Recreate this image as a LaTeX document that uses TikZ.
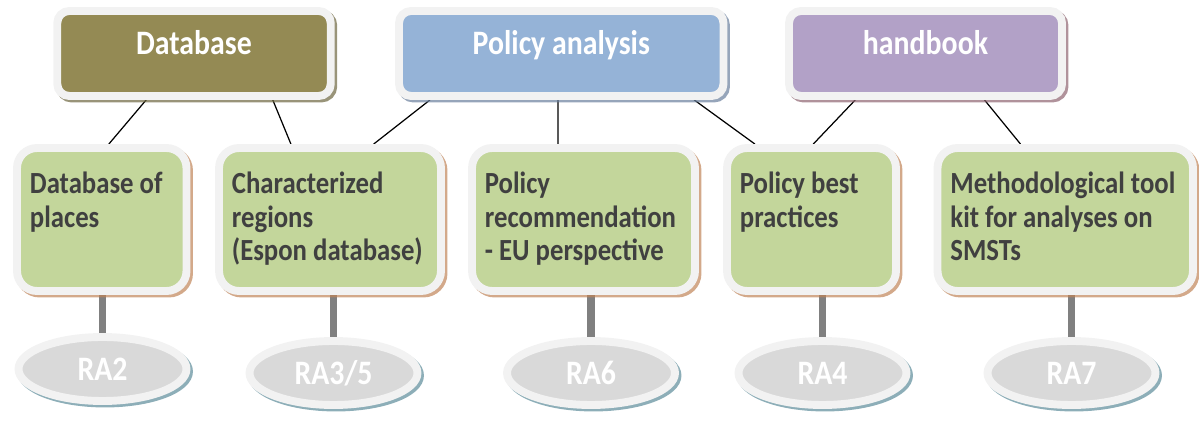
\documentclass[tikz,border=0pt]{standalone}
\usepackage{fontspec}
\newfontfamily\boxfont{Carlito}[FakeStretch=0.87]
\usetikzlibrary{shapes.geometric, shadows, backgrounds, calc}

\definecolor{borderwhite}{HTML}{F2F2F2}
\definecolor{olivebox}{HTML}{948A54}
\definecolor{oliveshadow}{HTML}{6E6740}
\definecolor{bluebox}{HTML}{95B3D7}
\definecolor{blueshadow}{HTML}{6A7F9C}
\definecolor{purplebox}{HTML}{B2A1C7}
\definecolor{purpleshadow}{HTML}{8E6470}
\definecolor{greenbox}{HTML}{C3D69B}
\definecolor{greenshadow}{HTML}{C08458}
\definecolor{ovalgray}{HTML}{D9D9D9}
\definecolor{ovalshadow}{HTML}{5C8C9A}
\definecolor{textgray}{HTML}{404040}

\begin{document}
\begin{tikzpicture}[x=0.02cm, y=-0.02cm,
    frame/.style={draw=borderwhite, line width=4.5pt},
    topic/.style={frame, rectangle, rounded corners=0.24cm, minimum height=1.7cm,
      text=white, font=\boxfont\bfseries\fontsize{19.5}{20}\selectfont,
      text height=12.5pt, text depth=11.5pt,
      drop shadow={shadow xshift=0.05cm, shadow yshift=-0.05cm, draw=#1, fill=#1, line width=4.5pt, opacity=0.7}},
    task/.style={frame, fill=greenbox, rectangle, rounded corners=0.4cm, minimum height=2.86cm,
      drop shadow={shadow xshift=0.05cm, shadow yshift=-0.05cm, draw=greenshadow, fill=greenshadow, line width=4.5pt, opacity=0.7}},
    tasktext/.style={anchor=north west, align=left, inner sep=0pt, xshift=0.33cm, yshift=-0.56cm,
      text=textgray, font=\boxfont\bfseries\fontsize{17.5}{18.8}\selectfont},
    result/.style={frame, fill=ovalgray, ellipse, inner sep=0pt, minimum width=3.36cm, minimum height=1.28cm,
      text=white, font=\boxfont\bfseries\fontsize{19.5}{20}\selectfont,
      drop shadow={shadow xshift=0.05cm, shadow yshift=-0.05cm, draw=ovalshadow, fill=ovalshadow, line width=4.5pt, opacity=0.7}},
    link/.style={line width=0.7pt, black},
    stem/.style={line width=4.5pt, gray}]
  \useasboundingbox (0,0) rectangle (1199,421);

  % top level
  \node[topic=oliveshadow, fill=olivebox, minimum width=5.47cm] (db) at (194,53.5) {Database};
  \node[topic=blueshadow, fill=bluebox, minimum width=6.49cm] (pol) at (561.25,53.5) {Policy analysis};
  \node[topic=purpleshadow, fill=purplebox, minimum width=5.46cm] (hb) at (925.5,53.5) {handbook};

  % outputs
  \node[task, minimum width=3.39cm, label={[tasktext]north west:Database of\\places}] (places) at (101.75,219.5) {};
  \node[task, minimum width=4.44cm, label={[tasktext]north west:Characterized\\regions\\(Espon database)}] (regions) at (330,219.5) {};
  \node[task, minimum width=4.46cm, label={[tasktext]north west:Policy\\recommendation\\- EU perspective}] (recom) at (583.5,219.5) {};
  \node[task, minimum width=3.38cm, label={[tasktext]north west:Policy best\\practices}] (practices) at (811.5,219.5) {};
  \node[task, minimum width=5.11cm, label={[tasktext]north west:Methodological tool\\kit for analyses on\\SMSTs}] (toolkit) at (1065.25,219.5) {};

  % research activities
  \node[result] (ra2) at (102.5,369) {RA2};
  \node[result] (ra35) at (333.5,373) {RA3/5};
  \node[result] (ra6) at (591,373) {RA6};
  \node[result] (ra4) at (822.5,373) {RA4};
  \node[result] (ra7) at (1071.5,373) {RA7};

  \begin{scope}[on background layer]
    \draw[link] ($(db.south west)!0.33!(db.south east)$) -- ($(places.north west)!0.54!(places.north east)$);
    \draw[link] ($(db.south west)!0.78!(db.south east)$) -- ($(regions.north west)!0.33!(regions.north east)$);
    \draw[link] ($(pol.south west)!0.105!(pol.south east)$) -- ($(regions.north west)!0.69!(regions.north east)$);
    \draw[link] ($(pol.south west)!0.49!(pol.south east)$) -- ($(recom.north west)!0.39!(recom.north east)$);
    \draw[link] ($(pol.south west)!0.90!(pol.south east)$) -- ($(practices.north west)!0.18!(practices.north east)$);
    \draw[link] ($(hb.south west)!0.25!(hb.south east)$) -- ($(practices.north west)!0.51!(practices.north east)$);
    \draw[link] ($(hb.south west)!0.71!(hb.south east)$) -- ($(toolkit.north west)!0.33!(toolkit.north east)$);

    \foreach \ra/\out in {ra2/places, ra35/regions, ra6/recom, ra4/practices, ra7/toolkit}
      \draw[stem] (\ra.north) -- (\ra.north |- \out.south);
  \end{scope}
\end{tikzpicture}
\end{document}
